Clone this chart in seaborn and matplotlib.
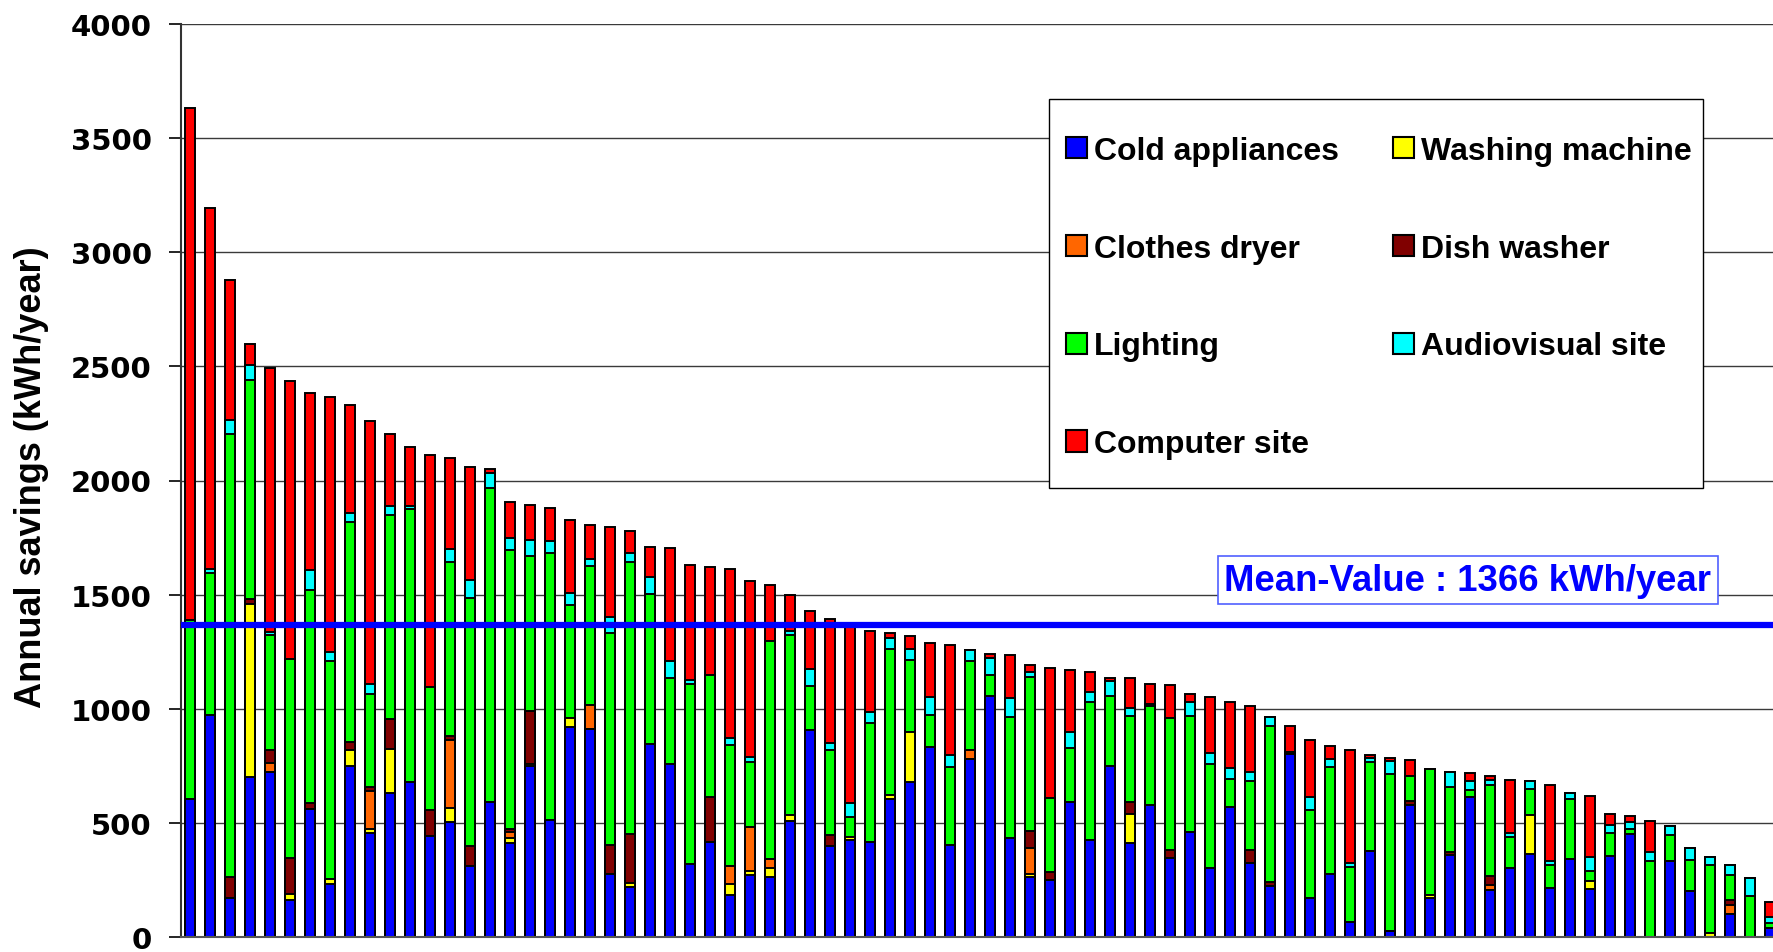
import numpy as np
import pandas as pd
import matplotlib
matplotlib.use("Agg")
import matplotlib.pyplot as plt
import seaborn as sns
from matplotlib.patches import Patch, Rectangle

# ---------------- data (kWh/year per household, sorted by total) ----------------
cold = [603, 971, 171, 700, 724, 163, 562, 231, 748, 454, 632, 680, 442, 502, 311, 593, 410, 747, 513, 918,
        910, 275, 219, 847, 759, 322, 418, 182, 270, 262, 507, 908, 397, 427, 418, 605, 678, 834, 405, 780,
        1056, 434, 263, 249, 592, 424, 749, 412, 580, 344, 461, 303, 570, 325, 222, 800, 171, 276, 66, 376,
        28, 577, 171, 358, 614, 205, 303, 365, 215, 340, 209, 355, 453, 0, 331, 200, 0, 100, 0, 39]
washing = [0, 0, 0, 757, 0, 27, 0, 24, 72, 17, 193, 0, 0, 61, 0, 0, 24, 12, 0, 43,
           0, 0, 16, 0, 0, 0, 0, 51, 17, 40, 29, 0, 0, 10, 0, 17, 218, 0, 0, 0,
           0, 0, 15, 0, 0, 0, 0, 125, 0, 0, 0, 0, 0, 0, 0, 0, 0, 0, 0, 0,
           0, 0, 15, 0, 0, 0, 0, 169, 0, 0, 35, 0, 0, 0, 0, 0, 19, 0, 0, 0]
dryer = [0, 0, 0, 0, 40, 0, 0, 0, 0, 168, 0, 0, 0, 298, 0, 0, 24, 0, 0, 0,
         107, 0, 0, 0, 0, 0, 0, 80, 194, 41, 0, 0, 0, 0, 0, 0, 0, 0, 0, 39,
         0, 0, 112, 0, 0, 0, 0, 0, 0, 0, 0, 0, 0, 0, 0, 0, 0, 0, 0, 0,
         0, 0, 0, 0, 0, 25, 0, 0, 0, 0, 0, 0, 0, 0, 0, 0, 0, 42, 0, 0]
dish = [0, 0, 91, 24, 56, 154, 25, 0, 36, 20, 132, 0, 113, 19, 86, 0, 15, 231, 0, 0,
        0, 127, 215, 0, 0, 0, 195, 0, 0, 0, 0, 0, 52, 0, 0, 0, 0, 0, 0, 0,
        0, 0, 73, 36, 0, 0, 0, 55, 0, 36, 0, 0, 0, 55, 19, 0, 0, 0, 0, 0,
        0, 18, 0, 15, 0, 39, 0, 0, 0, 0, 0, 0, 0, 0, 0, 0, 0, 19, 0, 0]
lighting = [786, 625, 1940, 959, 502, 872, 935, 954, 961, 406, 892, 1193, 541, 764, 1088, 1374, 1224, 678, 1171, 494,
            608, 932, 1191, 656, 374, 787, 536, 530, 284, 954, 786, 193, 372, 88, 518, 639, 317, 140, 338, 391,
            92, 531, 677, 322, 238, 607, 308, 377, 433, 581, 508, 454, 124, 303, 682, 11, 387, 468, 240, 392,
            687, 110, 548, 283, 32, 399, 134, 114, 99, 264, 44, 100, 19, 331, 114, 136, 295, 109, 180, 24]
audiovisual = [0, 15, 65, 67, 15, 0, 84, 39, 41, 43, 40, 14, 0, 58, 80, 66, 50, 73, 52, 51,
               32, 69, 40, 74, 76, 16, 0, 27, 22, 0, 19, 72, 29, 62, 48, 51, 48, 76, 54, 48,
               76, 80, 22, 0, 69, 44, 66, 35, 10, 0, 59, 47, 47, 38, 40, 0, 56, 34, 19, 17,
               58, 0, 0, 69, 37, 22, 19, 35, 17, 25, 62, 36, 32, 41, 41, 54, 36, 47, 78, 25]
computer = [2243, 1584, 613, 89, 1158, 1219, 776, 1120, 474, 1152, 315, 260, 1017, 397, 494, 19, 159, 151, 143, 321,
            148, 395, 98, 132, 496, 505, 471, 741, 773, 244, 158, 256, 542, 783, 357, 19, 58, 240, 481, 0,
            14, 190, 30, 570, 271, 84, 13, 129, 87, 143, 36, 249, 287, 292, 0, 112, 250, 57, 495, 13,
            12, 69, 0, 0, 37, 16, 234, 0, 337, 0, 267, 46, 25, 135, 0, 0, 0, 0, 0, 65]

categories = ["Cold appliances", "Washing machine", "Clothes dryer", "Dish washer",
              "Lighting", "Audiovisual site", "Computer site"]
series = [cold, washing, dryer, dish, lighting, audiovisual, computer]
colors = ["#0000FF", "#FFFF00", "#FF6600", "#800000", "#00FF00", "#00FFFF", "#FF0000"]
yticks = [0, 500, 1000, 1500, 2000, 2500, 3000, 3500, 4000]
mean_value = 1366
mean_label = "Mean-Value : 1366 kWh/year"
ylabel = "Annual savings (kWh/year)"

# ---------------- figure ----------------
W, H = 1774, 953
fig = plt.figure(figsize=(W / 100, H / 100), dpi=100)
fig.patch.set_facecolor("white")
ax = fig.add_axes([181 / W, 15 / H, (W - 181) / W, 913 / H])
ax.set_facecolor("white")

n = len(cold)
households = list(range(n))
cums = np.cumsum(np.array(series, dtype=float), axis=0)

# draw cumulative bars from the top category downwards so each layer covers the lower part
for k in range(len(series) - 1, -1, -1):
    df = pd.DataFrame({"household": households, "value": cums[k]})
    sns.barplot(data=df, x="household", y="value", color=colors[k], saturation=1,
                width=0.5, edgecolor="black", linewidth=1.4, errorbar=None,
                ax=ax, zorder=2)

ax.set_xlim(-0.45, -0.45 + (W - 181) / 20)
ax.set_ylim(0, 4000)
ax.set_yticks(yticks)
ax.set_yticklabels([str(v) for v in yticks], fontsize=21, fontweight="bold",
                   family="DejaVu Sans")
ax.tick_params(axis="y", direction="out", length=9, width=1.2, pad=12, colors="black")
ax.tick_params(axis="x", length=0, labelbottom=False)
ax.set_xlabel("")
ax.set_ylabel("")
ax.grid(axis="y", color="#3a3a3a", linewidth=1.0, zorder=0)
ax.grid(axis="x", visible=False)
ax.set_axisbelow(True)
for s in ["top", "right"]:
    ax.spines[s].set_visible(False)
ax.spines["left"].set_color("#333333")
ax.spines["left"].set_linewidth(1.5)
ax.spines["bottom"].set_color("#555555")
ax.spines["bottom"].set_linewidth(1.5)

# mean line
ax.axhline(mean_value, color="#0000FF", linewidth=4.5, zorder=5)
ax.text(63.9, 1564, mean_label, ha="center", va="center", fontsize=26.3, fontweight="bold",
        color="#0000FF", family="Liberation Sans", zorder=6,
        bbox=dict(boxstyle="square,pad=0.17", fc="white", ec="#5060FF", lw=1.2))

# y label
fig.text(32 / W, (H - 477) / H, ylabel, rotation=90, ha="center", va="center",
         fontsize=26, fontweight="bold", family="Liberation Sans")

# legend box
axw, axh = W - 181, 913
ax.add_patch(Rectangle(((1049 - 181) / axw, (938 - 489) / axh),
                       (1703 - 1049) / axw, (489 - 100) / axh,
                       transform=ax.transAxes, fc="white", ec="black", lw=1.0, zorder=7))
order = [0, 2, 4, 6, 1, 3, 5]
handles = [Patch(facecolor=colors[i], edgecolor="black", linewidth=1.5) for i in order]
labels = [categories[i] for i in order]
leg = ax.legend(handles, labels, ncol=2, frameon=False, loc="upper left",
                bbox_to_anchor=((1066 - 181) / axw, (938 - 137) / axh),
                borderpad=0, borderaxespad=0, handlelength=0.65, handleheight=0.65,
                handletextpad=0.22, labelspacing=2.12, columnspacing=1.7,
                prop={"family": "Liberation Sans", "weight": "bold", "size": 23})
leg.set_zorder(8)

fig.savefig("out.png", dpi=100, facecolor="white")
